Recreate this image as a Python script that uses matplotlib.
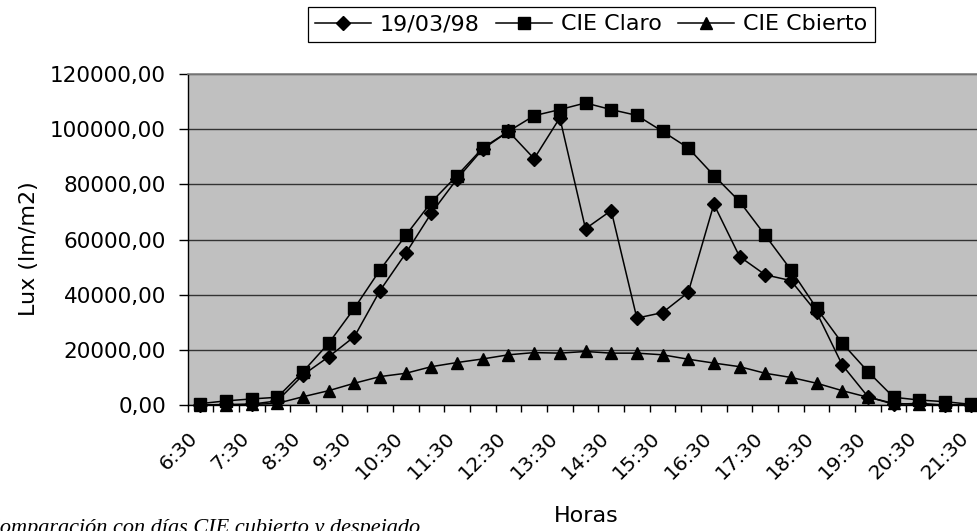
import matplotlib
matplotlib.use("Agg")
import matplotlib.pyplot as plt
import numpy as np
from matplotlib.transforms import ScaledTranslation

# Data (Lux every half hour)
horas = ["6:30", "7:00", "7:30", "8:00", "8:30", "9:00", "9:30", "10:00",
         "10:30", "11:00", "11:30", "12:00", "12:30", "13:00", "13:30", "14:00",
         "14:30", "15:00", "15:30", "16:00", "16:30", "17:00", "17:30", "18:00",
         "18:30", "19:00", "19:30", "20:00", "20:30", "21:00", "21:30"]

medido = [0, 200, 300, 1500, 10900, 17500, 24800, 41500, 55000, 69600, 82000,
          92800, 99200, 89300, 104100, 63900, 70500, 31500, 33500, 40800, 72800,
          53800, 47200, 45100, 33600, 14500, 3000, 250, 600, 0, 0]

cie_claro = [500, 1500, 2200, 2800, 12100, 22400, 35100, 49000, 61500, 73600,
             83200, 93200, 99200, 104900, 107100, 109500, 107100, 105000, 99200,
             93200, 83200, 73800, 61500, 49000, 35100, 22400, 12100, 2800, 1800,
             1200, 250]

cie_cubierto = [0, 0, 200, 600, 3000, 5200, 7900, 10300, 11500, 13900, 15400,
                16700, 18200, 19000, 18800, 19400, 18800, 18800, 18200, 16600,
                15200, 13900, 11500, 10000, 7900, 5200, 2800, 600, 200, 0, 0]

y_ticks = [0, 20000, 40000, 60000, 80000, 100000, 120000]
y_labels = ["0,00", "20000,00", "40000,00", "60000,00", "80000,00",
            "100000,00", "120000,00"]

W, H = 977, 531
fig = plt.figure(figsize=(W / 100, H / 100), dpi=100)
ax = fig.add_axes([187.5 / W, 126 / H, 796 / W, 331 / H])
ax.set_facecolor("#c0c0c0")

x = np.arange(len(horas))
ax.plot(x, medido, color="black", lw=1.1, marker="D", ms=7,
        label="19/03/98", clip_on=False, zorder=3)
ax.plot(x, cie_claro, color="black", lw=1.1, marker="s", ms=8.5,
        label="CIE Claro", clip_on=False, zorder=3)
ax.plot(x, cie_cubierto, color="black", lw=1.1, marker="^", ms=8.5,
        label="CIE Cbierto", clip_on=False, zorder=3)

ax.set_xlim(-0.5, len(horas) - 0.5)
ax.set_ylim(0, 120000)
ax.set_yticks(y_ticks)
ax.set_yticklabels(y_labels, fontsize=15.5)
ax.grid(axis="y", color="#333333", lw=1)
ax.set_axisbelow(True)

for side in ["left", "bottom"]:
    ax.spines[side].set_color("black")
    ax.spines[side].set_linewidth(1)
ax.spines["top"].set_color("#808080")
ax.spines["top"].set_linewidth(1.2)
ax.spines["right"].set_visible(False)

# ticks between categories, labels every hour
ax.set_xticks(np.arange(-0.5, len(horas), 1))
ax.set_xticklabels([])
ax.set_xticks(x[::2], minor=True)
ax.set_xticklabels(horas[::2], minor=True, fontsize=14.5)
ax.tick_params(axis="x", which="major", length=5, width=1, direction="out")
ax.tick_params(axis="x", which="minor", length=0, pad=17)
ax.tick_params(axis="y", length=6.5, width=1, pad=9)
shift = ScaledTranslation(-12 / 100, 0, fig.dpi_scale_trans)
for lab in ax.get_xticklabels(minor=True):
    lab.set_rotation(45)
    lab.set_ha("right")
    lab.set_va("top")
    lab.set_rotation_mode("anchor")
    lab.set_transform(lab.get_transform() + shift)

fig.text(586 / W, 1 - 516 / H, "Horas", fontsize=16, ha="center", va="center")
fig.text(29.5 / W, 1 - 248.5 / H, "Lux (lm/m2)", fontsize=16, rotation=90,
         ha="center", va="center")
fig.text(-15 / W, -2 / H, "Comparación con días CIE cubierto y despejado",
         fontsize=16, family="Liberation Serif", style="italic",
         ha="left", va="baseline")

leg = fig.legend(loc="upper left", bbox_to_anchor=(307.7 / W, 1 - 6.7 / H),
                 ncol=3, frameon=True, fancybox=False, edgecolor="black",
                 fontsize=16, handlelength=2.5, handletextpad=0.4,
                 columnspacing=0.75, borderpad=0.35, borderaxespad=0,
                 framealpha=1)
leg.get_frame().set_linewidth(0.9)

fig.savefig("out.png", dpi=100)
